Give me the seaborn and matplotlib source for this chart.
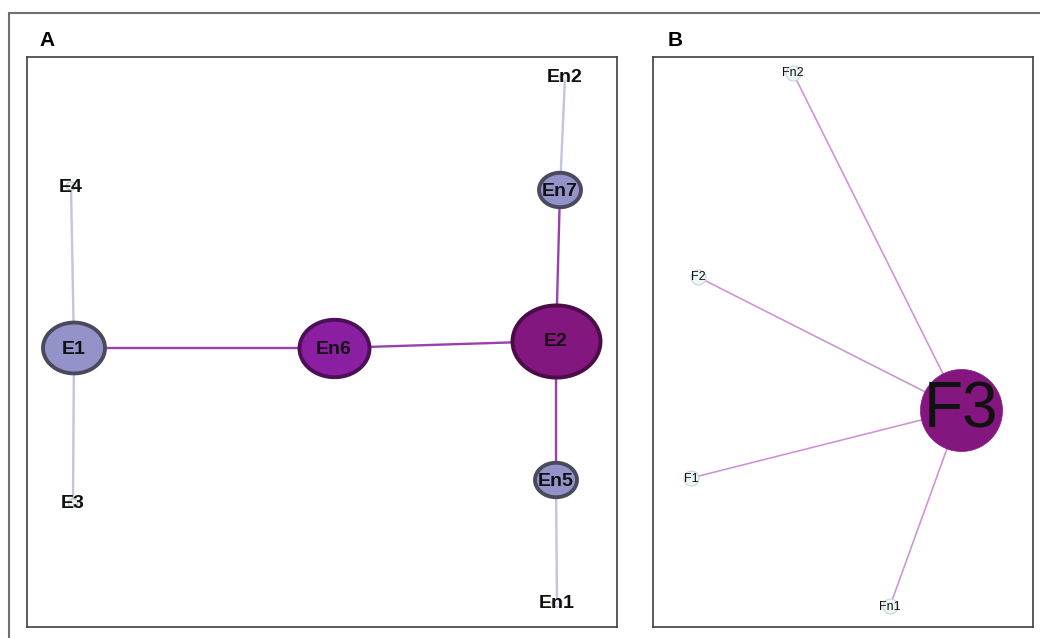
import matplotlib
matplotlib.use('Agg')
import matplotlib.pyplot as plt
import numpy as np
import pandas as pd
import seaborn as sns
from matplotlib.markers import MarkerStyle
from matplotlib.path import Path
from matplotlib.patches import Rectangle

a_nodes = ['E4', 'E1', 'E3', 'En6', 'E2', 'En7', 'En2', 'En5', 'En1']
a_x = [71, 74, 73, 334, 556, 560, 565, 556, 557]
a_y = [186, 348, 503, 348, 341, 190, 77, 480, 603]
a_score = [1, 3, 1, 4, 5, 2, 1, 2, 1]
a_group = ['leaf', 'mid', 'leaf', 'bridge', 'hub', 'mid', 'leaf', 'mid', 'leaf']
a_edges = [('E4', 'E1'), ('E1', 'E3'), ('E1', 'En6'), ('En6', 'E2'),
           ('E2', 'En7'), ('E2', 'En5'), ('En7', 'En2'), ('En5', 'En1')]
a_edge_kind = ['weak', 'weak', 'strong', 'strong', 'strong', 'strong', 'weak', 'weak']

# panel B network
b_nodes = ['Fn2', 'F2', 'F1', 'Fn1', 'F3']
b_x = [793, 698, 691, 890, 961]
b_y = [73, 277, 478, 606, 410]
b_score = [1, 1, 1, 1, 5]
b_edges = [('F3', 'Fn2'), ('F3', 'F2'), ('F3', 'F1'), ('F3', 'Fn1')]

W, H = 1040, 638
PX = 72.0 / 100  # points per pixel

fill = {'leaf': '#eef4f4', 'mid': '#9393c9', 'bridge': '#8a1fa2', 'hub': '#84167f'}
edge = {'leaf': '#b8c4c4', 'mid': '#4a4a5c', 'bridge': '#4c0f58', 'hub': '#4a0d47'}
a_px = {1: 10, 2: 42, 3: 62, 4: 70, 5: 88}
line_col = {'weak': '#c3c3e2', 'strong': '#9a40ac'}

theta = np.linspace(0, 2 * np.pi, 80)
ellipse = MarkerStyle(Path(np.column_stack([np.cos(theta), 0.82 * np.sin(theta)]), closed=True))

fig = plt.figure(figsize=(W / 100, H / 100), dpi=100)
fig.add_artist(Rectangle((9 / W, -0.05), 1.2, (H - 13) / H + 0.05, transform=fig.transFigure,
                         fill=False, edgecolor='#707070', linewidth=1.5))

axA = fig.add_axes([27 / W, 11 / H, 590 / W, 570 / H])
axB = fig.add_axes([653 / W, 11 / H, 380 / W, 570 / H])

dfA = pd.DataFrame({'node': a_nodes, 'x': a_x, 'y': a_y, 'score': a_score, 'group': a_group})
posA = {n: (x, y) for n, x, y in zip(a_nodes, a_x, a_y)}
for (u, v), kind in zip(a_edges, a_edge_kind):
    axA.plot([posA[u][0], posA[v][0]], [posA[u][1], posA[v][1]],
             color=line_col[kind], lw=1.7, zorder=1)

sizes = {k: (v * PX) ** 2 for k, v in a_px.items()}
for g in ['leaf', 'mid', 'bridge', 'hub']:
    sub = dfA[dfA.group == g]
    sns.scatterplot(data=sub, x='x', y='y', size='score', sizes=sizes, marker=ellipse,
                    color=fill[g], edgecolor=edge[g], linewidth=2.8 if g != 'leaf' else 0.8,
                    legend=False, ax=axA, zorder=2)
for n, x, y in zip(a_nodes, a_x, a_y):
    axA.text(x, y + 1, n, ha='center', va='center', fontsize=14, fontweight='bold',
             family='Liberation Sans', color='#111111', zorder=3)

dfB = pd.DataFrame({'node': b_nodes, 'x': b_x, 'y': b_y, 'score': b_score})
posB = {n: (x, y) for n, x, y in zip(b_nodes, b_x, b_y)}
for u, v in b_edges:
    axB.plot([posB[u][0], posB[v][0]], [posB[u][1], posB[v][1]],
             color='#cc96d4', lw=1.2, zorder=1)
sns.scatterplot(data=dfB[dfB.score == 1], x='x', y='y', s=(15 * PX) ** 2, color='#eef6f6',
                edgecolor='#c8d4d4', linewidth=0.8, legend=False, ax=axB, zorder=2)
sns.scatterplot(data=dfB[dfB.score == 5], x='x', y='y', s=(82 * PX) ** 2, color='#84167f',
                edgecolor='#84167f', linewidth=0.5, legend=False, ax=axB, zorder=2)
for n, x, y, s in zip(b_nodes, b_x, b_y, b_score):
    axB.text(x, y + (1 if s == 5 else 0.5), n, ha='center', va='center',
             fontsize=46 if s == 5 else 9, family='Liberation Sans', color='#111111', zorder=3)

for ax, (l, r) in [(axA, (27, 617)), (axB, (653, 1033))]:
    ax.set_xlim(l, r)
    ax.set_ylim(627, 57)
    ax.set_xticks([])
    ax.set_yticks([])
    ax.set_xlabel('')
    ax.set_ylabel('')
    for sp in ax.spines.values():
        sp.set_color('#404040')
        sp.set_linewidth(1.2)

fig.text(47 / W, 1 - 40 / H, 'A', fontsize=15, fontweight='bold', family='Liberation Sans',
         ha='center', va='center')
fig.text(675 / W, 1 - 40 / H, 'B', fontsize=15, fontweight='bold', family='Liberation Sans',
         ha='center', va='center')

fig.savefig('out.png', dpi=100)
